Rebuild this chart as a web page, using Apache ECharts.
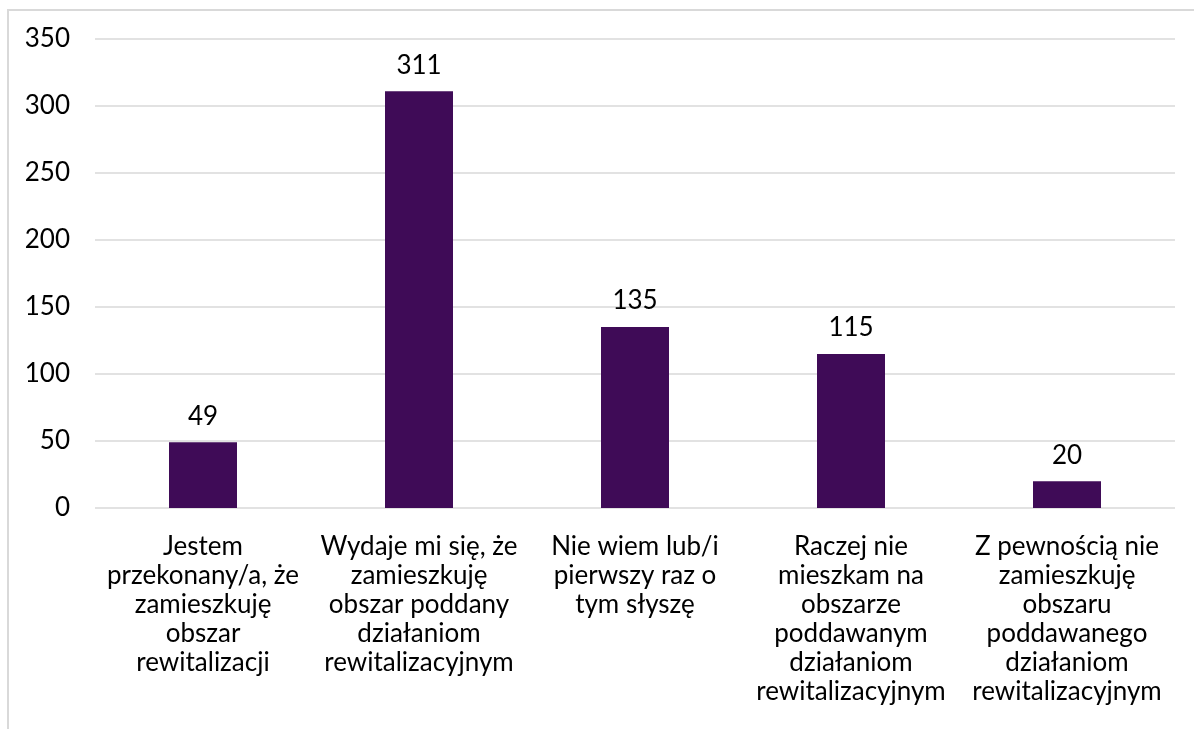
<!DOCTYPE html>
<html>
<head>
<meta charset="utf-8">
<script src="https://cdn.jsdelivr.net/npm/echarts@6/dist/echarts.min.js"></script>
<style>
  html, body { margin: 0; padding: 0; background: #fff; }
  #frame {
    position: absolute; left: 7px; top: 9px; width: 1200px; height: 740px;
    border-left: 2px solid #d9d9d9; border-top: 2px solid #d9d9d9;
  }
  #chart { position: absolute; left: 0; top: 0; width: 1194px; height: 729px; }
</style>
</head>
<body>
<div id="frame"></div>
<div id="chart"></div>
<script>
const categories = [
  'Jestem\nprzekonany/a, że\nzamieszkuję\nobszar\nrewitalizacji',
  'Wydaje mi się, że\nzamieszkuję\nobszar poddany\ndziałaniom\nrewitalizacyjnym',
  'Nie wiem lub/i\npierwszy raz o\ntym słyszę',
  'Raczej nie\nmieszkam na\nobszarze\npoddawanym\ndziałaniom\nrewitalizacyjnym',
  'Z pewnością nie\nzamieszkuję\nobszaru\npoddawanego\ndziałaniom\nrewitalizacyjnym'
]
const counts = [49, 311, 135, 115, 20]

const chart = echarts.init(document.getElementById('chart'))
const font = 'Lato, "Noto Sans", sans-serif'

chart.setOption({
  animation: false,
  grid: { left: 95, right: 19, top: 39, bottom: 221, containLabel: false },
  xAxis: {
    type: 'category',
    data: categories,
    axisLine: { show: false },
    axisTick: { show: false },
    axisLabel: {
      color: '#000', fontSize: 26, fontFamily: font, lineHeight: 29,
      margin: 24, interval: 0, align: 'center'
    }
  },
  yAxis: {
    type: 'value',
    min: 0, max: 350, interval: 50,
    axisLine: { show: false },
    axisTick: { show: false },
    axisLabel: { color: '#000', fontSize: 26, fontFamily: font, margin: 25 },
    splitLine: { lineStyle: { color: '#d9d9d9', width: 1.5 } }
  },
  series: [{
    type: 'bar',
    data: counts,
    barWidth: 68,
    itemStyle: { color: '#3f0b57' },
    label: {
      show: true, position: 'top', distance: 13,
      color: '#000', fontSize: 26, fontFamily: font
    }
  }]
})
</script>
</body>
</html>
